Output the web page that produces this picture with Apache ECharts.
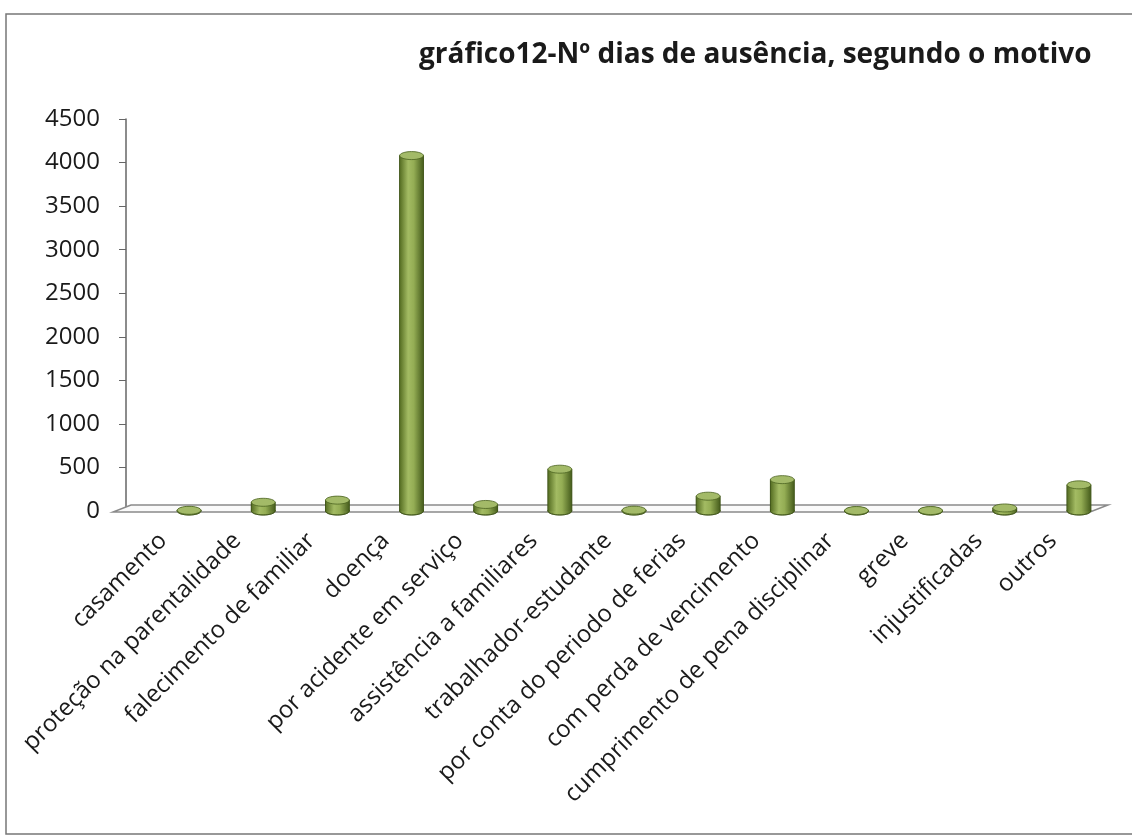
<!DOCTYPE html>
<html>
<head>
<meta charset="utf-8">
<script src="https://cdn.jsdelivr.net/npm/echarts@6/dist/echarts.min.js"></script>
<style>
  html, body { margin: 0; padding: 0; background: #fff; }
  #chart { width: 1132px; height: 838px; }
</style>
</head>
<body>
<div id="chart"></div>
<script>
// categorias (motivos de ausência)
const categories = [
  'casamento', 'proteção na parentalidade', 'falecimento de familiar', 'doença',
  'por acidente em serviço', 'assistência a familiares', 'trabalhador-estudante',
  'por conta do periodo de ferias', 'com perda de vencimento',
  'cumprimento de pena disciplinar', 'greve', 'injustificadas', 'outros'
];
// nº de dias
const dias = [8, 100, 125, 4080, 75, 480, 10, 170, 360, 5, 5, 35, 300];
const yTicks = { min: 0, max: 4500, interval: 500 };
const titleText = 'gráfico12-Nº dias de ausência, segundo o motivo';

// 3D look: bars sit a little to the right of the category tick
const DEPTH_X = 26;

const chart = echarts.init(document.getElementById('chart'));

const bodyGrad = new echarts.graphic.LinearGradient(0, 0, 1, 0, [
  { offset: 0, color: '#5a7226' },
  { offset: 0.35, color: '#a3bb63' },
  { offset: 0.6, color: '#94ad54' },
  { offset: 1, color: '#4b6220' }
]);

function cylinder (params, api) {
  const top = api.coord([api.value(0), api.value(1)]);
  const base = api.coord([api.value(0), 0]);
  const w = api.size([1, 0])[0] * 0.32;
  const cx = top[0] + DEPTH_X;
  const ry = 4;
  const x0 = cx - w / 2;
  const h = Math.max(base[1] - top[1], 0);
  return {
    type: 'group',
    children: [
      {
        type: 'rect',
        shape: { x: x0, y: top[1], width: w, height: h },
        style: { fill: bodyGrad, stroke: '#3f5418', lineWidth: 0.8 }
      },
      {
        type: 'ellipse',
        shape: { cx: cx, cy: base[1], rx: w / 2, ry: ry },
        style: { fill: bodyGrad, stroke: '#3f5418', lineWidth: 0.8 }
      },
      {
        type: 'rect',
        shape: { x: x0 + 0.6, y: top[1], width: w - 1.2, height: h },
        style: { fill: bodyGrad }
      },
      {
        type: 'ellipse',
        shape: { cx: cx, cy: top[1], rx: w / 2, ry: ry },
        style: { fill: '#a3ba68', stroke: '#4a6220', lineWidth: 0.8 }
      }
    ]
  };
}

chart.setOption({
  backgroundColor: '#ffffff',
  animation: false,
  title: {
    text: titleText,
    left: 414,
    top: 36,
    textStyle: {
      fontFamily: 'Open Sans',
      fontWeight: 'bold',
      fontSize: 28,
      color: '#1a1a1a'
    }
  },
  grid: { left: 126, right: 42, top: 119, bottom: 327 },
  xAxis: {
    type: 'category',
    data: categories,
    axisLine: { show: false },
    axisTick: { show: false },
    axisLabel: {
      rotate: 45,
      interval: 0,
      margin: 26,
      fontFamily: 'Open Sans',
      fontSize: 24,
      color: '#1a1a1a'
    }
  },
  yAxis: {
    type: 'value',
    min: yTicks.min,
    max: yTicks.max,
    interval: yTicks.interval,
    axisLine: { show: true, lineStyle: { color: '#666', width: 1.5 } },
    axisTick: { show: true, length: 7, lineStyle: { color: '#666' } },
    splitLine: { show: false },
    axisLabel: {
      margin: 26,
      fontFamily: 'Open Sans',
      fontSize: 24,
      color: '#1a1a1a',
      formatter: v => String(v)
    }
  },
  series: [{
    type: 'custom',
    renderItem: cylinder,
    data: dias.map((v, i) => [i, v]),
    encode: { x: 0, y: 1 },
    z: 5
  }]
});

// chão (floor) and moldura
const p0 = chart.convertToPixel({ gridIndex: 0 }, [0, 0]);
const pN = chart.convertToPixel({ gridIndex: 0 }, [categories.length - 1, 0]);
const half = (pN[0] - p0[0]) / (categories.length - 1) / 2;
const baseY = p0[1];
const xl = p0[0] - half - 13;
const xr = pN[0] + half;
chart.setOption({
  graphic: [
    {
      type: 'polygon',
      z: 1,
      shape: { points: [[xl, baseY + 1], [xr, baseY + 1], [xr + 18, baseY - 6], [xl + 18, baseY - 6]] },
      style: { fill: '#fafafa', stroke: '#8a8a8a', lineWidth: 1.5 }
    },
    {
      type: 'rect',
      z: 0,
      shape: { x: 6, y: 14, width: 1140, height: 820 },
      style: { fill: 'none', stroke: '#777', lineWidth: 1.5 }
    }
  ]
});
</script>
</body>
</html>
